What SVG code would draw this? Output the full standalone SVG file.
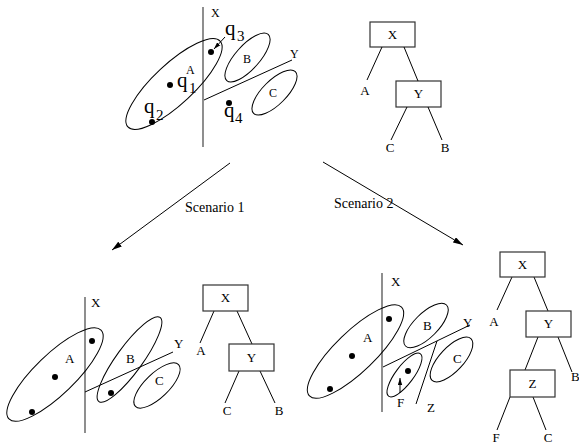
<svg xmlns="http://www.w3.org/2000/svg" width="579" height="447" viewBox="0 0 579 447">
  <defs>
    <marker id="head" viewBox="0 0 10 6" refX="10" refY="3" markerWidth="10" markerHeight="6" markerUnits="userSpaceOnUse" orient="auto">
      <path d="M0,0 L10,3 L0,6 Z" fill="#000"/>
    </marker>
    <marker id="tip" viewBox="0 0 8 5" refX="8" refY="2.5" markerWidth="7" markerHeight="5" markerUnits="userSpaceOnUse" orient="auto">
      <path d="M0,0 L8,2.5 L0,5 Z" fill="#000"/>
    </marker>
  </defs>
  <style>
    text { font-family: "Liberation Serif", "DejaVu Serif", serif; fill: #000; }
    .lbl { font-size: 13px; }
    .sm { font-size: 12px; }
    .q { font-size: 21px; }
    .sub { font-size: 15px; }
    .cap { font-size: 14px; }
    .mid { text-anchor: middle; }
    .ell { fill: none; stroke: #000; stroke-width: 1; }
    .cut { fill: none; stroke: #000; stroke-width: 1; }
    .axis { fill: none; stroke: #444; stroke-width: 1.2; }
    .box { fill: #fff; stroke: #333; stroke-width: 1.2; }
    .edge { fill: none; stroke: #000; stroke-width: 1; }
    .dot { fill: #000; }
  </style>
  <rect width="579" height="447" fill="#fff"/>

  <!-- Initial partition -->
  <g id="scene-top">
    <line class="axis" x1="203" y1="7" x2="203" y2="147"/>
    <text class="sm" x="211" y="17">X</text>
    <line class="cut" x1="204" y1="100" x2="292" y2="60"/>
    <text class="sm" x="290" y="58">Y</text>
    <g id="top-A">
      <ellipse class="ell" cx="174" cy="84" rx="63" ry="20" transform="rotate(-43 174 84)"/>
      <text class="sm" x="186" y="74">A</text>
    </g>
    <g id="top-B">
      <ellipse class="ell" cx="247.5" cy="57.5" rx="31" ry="12" transform="rotate(-48 247.5 57.5)"/>
      <text class="sm" x="243" y="63">B</text>
    </g>
    <g id="top-C">
      <ellipse class="ell" cx="274.5" cy="92.5" rx="29.5" ry="12" transform="rotate(-45 274.5 92.5)"/>
      <text class="sm" x="269" y="97">C</text>
    </g>
    <g id="queries">
      <circle class="dot" cx="211" cy="52" r="3"/>
      <line class="edge" x1="225" y1="37" x2="214" y2="49" marker-end="url(#tip)"/>
      <text class="q" x="225" y="35">q</text><text class="sub" x="237" y="41">3</text>
      <circle class="dot" cx="170" cy="85" r="3"/>
      <text class="q" x="177" y="87">q</text><text class="sub" x="189" y="93">1</text>
      <circle class="dot" cx="152" cy="122" r="3"/>
      <text class="q" x="144" y="113">q</text><text class="sub" x="156" y="120">2</text>
      <circle class="dot" cx="229" cy="103" r="3"/>
      <text class="q" x="224" y="117">q</text><text class="sub" x="235" y="123">4</text>
    </g>
  </g>

  <!-- Initial tree -->
  <g id="tree-top">
    <g id="t1-X">
      <rect class="box" x="370" y="22" width="45" height="25"/>
      <text class="lbl mid" x="392.5" y="38.5">X</text>
    </g>
    <g id="t1-Y">
      <rect class="box" x="396" y="81" width="45" height="26"/>
      <text class="lbl mid" x="418.5" y="98">Y</text>
    </g>
    <text class="lbl mid" x="365" y="95">A</text>
    <text class="lbl mid" x="390" y="152">C</text>
    <text class="lbl mid" x="445" y="152">B</text>
  </g>

  <!-- Connectors -->
  <g id="connectors">
    <line class="edge" x1="382" y1="47" x2="367" y2="80"/>
    <line class="edge" x1="404" y1="47" x2="418" y2="81"/>
    <line class="edge" x1="407" y1="107" x2="391" y2="140"/>
    <line class="edge" x1="428" y1="107" x2="442" y2="140"/>

    <line class="edge" x1="214" y1="311" x2="200" y2="343"/>
    <line class="edge" x1="237" y1="311" x2="252" y2="344"/>
    <line class="edge" x1="239" y1="371" x2="225" y2="403"/>
    <line class="edge" x1="260" y1="371" x2="275" y2="403"/>

    <line class="edge" x1="512" y1="277" x2="497" y2="310"/>
    <line class="edge" x1="534" y1="277" x2="548" y2="311"/>
    <line class="edge" x1="558" y1="337" x2="572" y2="372"/>
    <line class="edge" x1="538" y1="337" x2="525" y2="370"/>
    <line class="edge" x1="510" y1="397" x2="497" y2="430"/>
    <line class="edge" x1="533" y1="397" x2="546" y2="430"/>

    <line class="edge" x1="230" y1="163" x2="112" y2="250" marker-end="url(#head)"/>
    <line class="edge" x1="323" y1="162" x2="463" y2="245" marker-end="url(#head)"/>
  </g>
  <text class="cap" x="185" y="212">Scenario 1</text>
  <text class="cap" x="334" y="208">Scenario 2</text>

  <!-- Scenario 1 partition -->
  <g id="scene-1">
    <line class="axis" x1="85" y1="297" x2="85" y2="433"/>
    <text class="lbl" x="91" y="307">X</text>
    <line class="cut" x1="85" y1="392" x2="173" y2="352"/>
    <text class="lbl" x="174" y="348">Y</text>
    <g id="s1-A">
      <ellipse class="ell" cx="55" cy="374.5" rx="64" ry="20" transform="rotate(-44 55 374.5)"/>
      <text class="lbl" x="65" y="363">A</text>
      <circle class="dot" cx="92" cy="341" r="3"/>
      <circle class="dot" cx="55" cy="377" r="3"/>
      <circle class="dot" cx="32" cy="412" r="3"/>
    </g>
    <g id="s1-B">
      <ellipse class="ell" cx="129.5" cy="359.5" rx="52" ry="13" transform="rotate(-54 129.5 359.5)"/>
      <text class="lbl" x="126" y="363">B</text>
      <circle class="dot" cx="111" cy="393" r="3"/>
    </g>
    <g id="s1-C">
      <ellipse class="ell" cx="157" cy="385.5" rx="30" ry="12" transform="rotate(-44 157 385.5)"/>
      <text class="lbl" x="155" y="385">C</text>
    </g>
  </g>

  <!-- Scenario 1 tree -->
  <g id="tree-1">
    <g id="t2-X">
      <rect class="box" x="203" y="285" width="45" height="26"/>
      <text class="lbl mid" x="225.5" y="302">X</text>
    </g>
    <g id="t2-Y">
      <rect class="box" x="229" y="344" width="45" height="27"/>
      <text class="lbl mid" x="251.5" y="362">Y</text>
    </g>
    <text class="lbl mid" x="201" y="355">A</text>
    <text class="lbl mid" x="227" y="415">C</text>
    <text class="lbl mid" x="279" y="415">B</text>
  </g>

  <!-- Scenario 2 partition -->
  <g id="scene-2">
    <line class="axis" x1="382" y1="273" x2="382" y2="412"/>
    <text class="lbl" x="391" y="286">X</text>
    <line class="cut" x1="383" y1="367" x2="470" y2="325"/>
    <text class="lbl" x="463" y="327">Y</text>
    <line class="cut" x1="437" y1="341" x2="416" y2="404"/>
    <text class="lbl" x="427" y="412">Z</text>
    <g id="s2-A">
      <ellipse class="ell" cx="355.5" cy="351.5" rx="64" ry="20" transform="rotate(-44 355.5 351.5)"/>
      <text class="lbl" x="363" y="342">A</text>
      <circle class="dot" cx="389" cy="319" r="3"/>
      <circle class="dot" cx="352" cy="356" r="3"/>
      <circle class="dot" cx="330" cy="389" r="3"/>
    </g>
    <g id="s2-B">
      <ellipse class="ell" cx="426" cy="325.5" rx="29" ry="12" transform="rotate(-45 426 325.5)"/>
      <text class="lbl" x="423" y="330">B</text>
    </g>
    <g id="s2-C">
      <ellipse class="ell" cx="451.5" cy="359.5" rx="28.5" ry="12" transform="rotate(-47 451.5 359.5)"/>
      <text class="lbl" x="453" y="363">C</text>
    </g>
    <g id="s2-F">
      <ellipse class="ell" cx="404.5" cy="375" rx="26.5" ry="9" transform="rotate(-53 404.5 375)"/>
      <circle class="dot" cx="408" cy="371" r="3"/>
      <line class="edge" x1="400" y1="393" x2="400" y2="378" marker-end="url(#tip)"/>
      <text class="lbl" x="397" y="407">F</text>
    </g>
  </g>

  <!-- Scenario 2 tree -->
  <g id="tree-2">
    <g id="t3-X">
      <rect class="box" x="500" y="252" width="45" height="25"/>
      <text class="lbl mid" x="522.5" y="268.5">X</text>
    </g>
    <g id="t3-Y">
      <rect class="box" x="526" y="311" width="45" height="26"/>
      <text class="lbl mid" x="548.5" y="328">Y</text>
    </g>
    <g id="t3-Z">
      <rect class="box" x="510" y="370" width="45" height="27"/>
      <text class="lbl mid" x="532.5" y="388">Z</text>
    </g>
    <text class="lbl mid" x="494" y="326">A</text>
    <text class="lbl" x="571" y="381">B</text>
    <text class="lbl mid" x="496" y="442">F</text>
    <text class="lbl mid" x="548" y="442">C</text>
  </g>
</svg>
